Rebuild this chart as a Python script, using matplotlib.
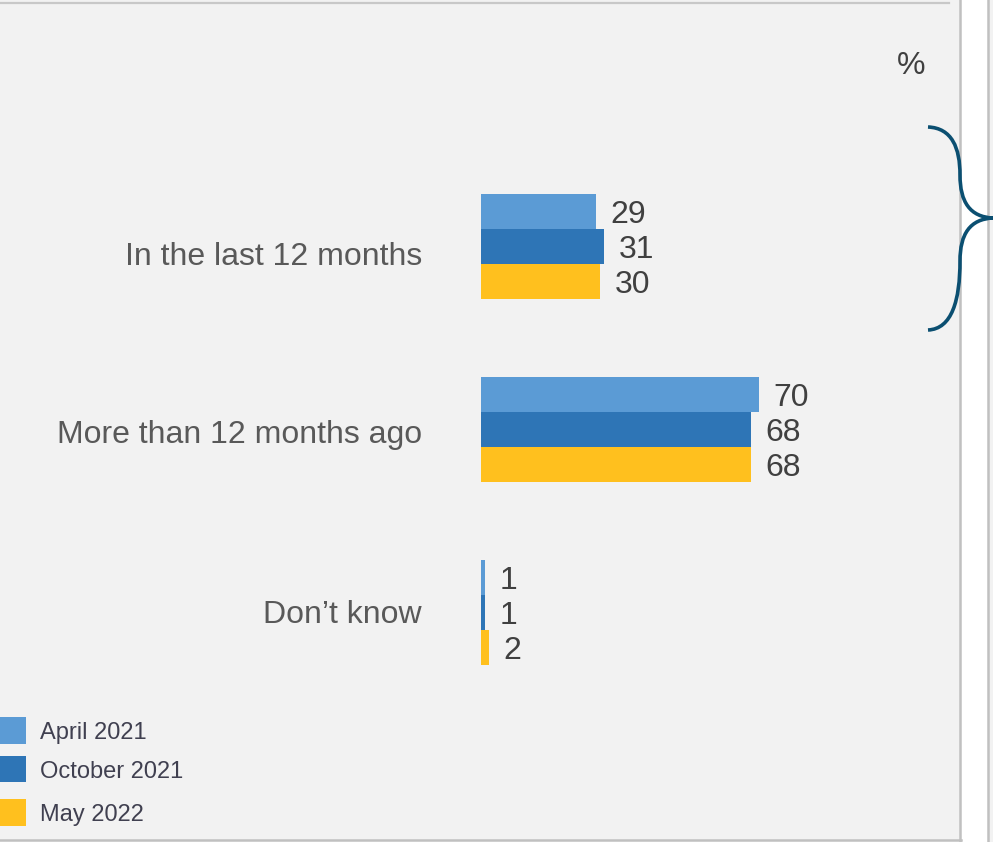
import matplotlib
matplotlib.use("Agg")
import matplotlib.pyplot as plt
from matplotlib.patches import Rectangle, PathPatch
from matplotlib.path import Path
from matplotlib.lines import Line2D

plt.rcParams['font.family'] = ['Liberation Sans', 'DejaVu Sans']

categories = ["In the last 12 months", "More than 12 months ago", "Don\u2019t know"]
series_names = ["April 2021", "October 2021", "May 2022"]
april_2021 = [29, 70, 1]
october_2021 = [31, 68, 1]
may_2022 = [30, 68, 2]
series_values = [april_2021, october_2021, may_2022]
colors = ["#5B9BD5", "#2E75B6", "#FFC01E"]
unit_label = "%"

# small vertical nudges (points, negative = down) for category labels
label_nudge = [-5.0, -1.5, 0.5]

W, H = 993, 842
fig = plt.figure(figsize=(W / 100, H / 100), dpi=100)
fig.patch.set_facecolor("white")

def fx(px):
    return px / W

def fy(py):
    return 1 - py / H

# panel background
fig.patches.append(Rectangle((0, fy(840)), fx(960), (840) / H, transform=fig.transFigure,
                             facecolor="#F2F2F2", edgecolor="none", zorder=-5))
fig.patches.append(Rectangle((fx(988), 0), fx(5), 1, transform=fig.transFigure,
                             facecolor="#F2F2F2", edgecolor="none", zorder=-5))
# frame lines
fig.lines.append(Line2D([0, fx(949)], [fy(2.5), fy(2.5)], transform=fig.transFigure,
                        color="#C8C8C8", lw=1.6, zorder=-4))
fig.lines.append(Line2D([fx(960), fx(960)], [0, 1], transform=fig.transFigure,
                        color="#C0C0C0", lw=1.8, zorder=-4))
fig.lines.append(Line2D([fx(988), fx(988)], [0, 1], transform=fig.transFigure,
                        color="#C0C0C0", lw=1.8, zorder=-4))
fig.lines.append(Line2D([0, fx(961)], [fy(840), fy(840)], transform=fig.transFigure,
                        color="#C0C0C0", lw=1.8, zorder=-4))

# axes: x=0 at px 481, 3.97 px per unit; group centres at px 246.5, 429.5, 612.5
x0_px, ppu = 481, 3.97
top_px, bot_px = 246.5 - 183, 612.5 + 183
ax = fig.add_axes([fx(x0_px), fy(bot_px), fx(100 * ppu), (bot_px - top_px) / H])
ax.set_zorder(3)
ax.patch.set_alpha(0)
ax.set_xlim(0, 100)
ax.set_ylim(3, -1)
ax.axis("off")

bar_h = 34.7 / 183
offsets = [-bar_h, 0, bar_h]
for vals, col, off in zip(series_values, colors, offsets):
    ys = [i + off for i in range(len(categories))]
    ax.barh(ys, vals, height=bar_h, color=col, edgecolor="none")
    for y, v in zip(ys, vals):
        ax.annotate(str(v), xy=(v, y), xytext=(10.6, 0), textcoords="offset points",
                    ha="left", va="center_baseline", fontsize=23, color="#404040",
                    annotation_clip=False)

for i, cat in enumerate(categories):
    ax.annotate(cat, xy=(0, i), xytext=(-42.5, label_nudge[i]), textcoords="offset points",
                ha="right", va="center_baseline", fontsize=23, color="#595959",
                annotation_clip=False)

# percent sign
fig.text(fx(911), fy(62), unit_label, ha="center", va="center_baseline",
         fontsize=23, color="#404040")

# brace
def P(x, y):
    return (fx(x), fy(y))

verts = [P(928, 127),
         P(952, 128), P(960, 148), P(960, 175),
         P(960, 202), P(970, 217), P(993, 218),
         P(970, 219), P(960, 234), P(960, 261),
         P(960, 300), P(952, 329), P(928, 330)]
codes = [Path.MOVETO] + [Path.CURVE4] * 12
fig.patches.append(PathPatch(Path(verts, codes), transform=fig.transFigure,
                             facecolor="none", edgecolor="#0B4F71", lw=2.6, zorder=5))

# legend
leg_rows = [(717, 744), (756, 782), (799, 826)]
for name, col, (t, b) in zip(series_names, colors, leg_rows):
    fig.patches.append(Rectangle((0, fy(b)), fx(26), (b - t) / H, transform=fig.transFigure,
                                 facecolor=col, edgecolor="none"))
    fig.text(fx(40), fy((t + b) / 2), name, ha="left", va="center_baseline",
             fontsize=17, color="#404050")

fig.savefig("out.png", dpi=100, facecolor=fig.get_facecolor())
